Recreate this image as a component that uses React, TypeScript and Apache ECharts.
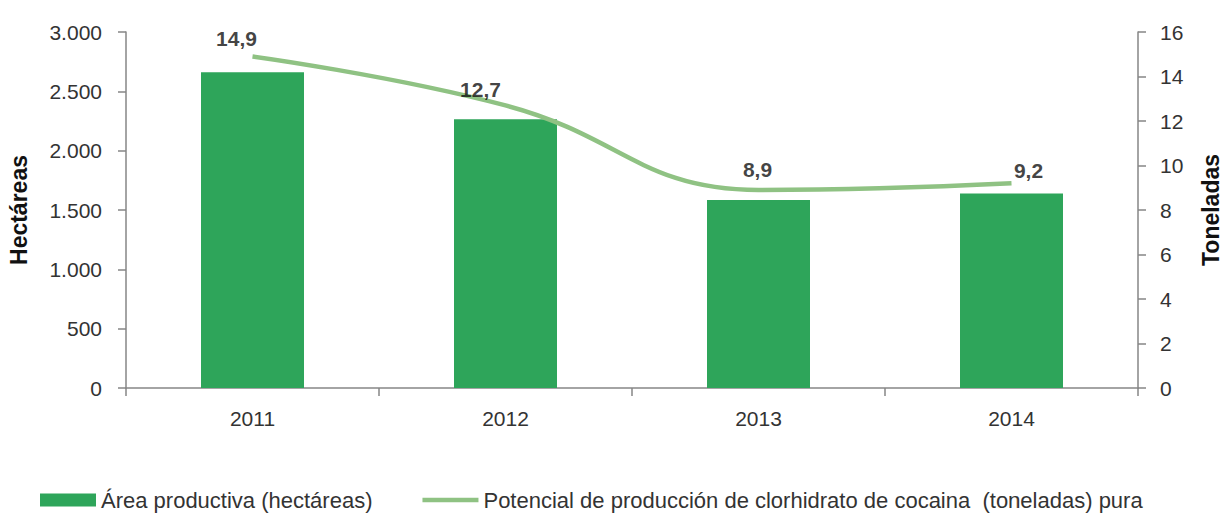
import React, { useEffect, useRef } from "react";
import * as echarts from "echarts";

const years = ["2011", "2012", "2013", "2014"];
const areaHa = [2660, 2265, 1585, 1640];
const toneladas = [14.9, 12.7, 8.9, 9.2];
const labelOffsets = [[-16, -5], [-25, -3], [-1, -8], [17, 0]];
const leftTicks = { min: 0, max: 3000, interval: 500 };
const rightTicks = { min: 0, max: 16, interval: 2 };
const barName = "Área productiva (hectáreas)";
const lineName = "Potencial de producción de clorhidrato de cocaina  (toneladas) pura";

const FONT = "'Liberation Sans', Arial, sans-serif";
const AXIS_COLOR = "#868686";
const TEXT_COLOR = "#333333";

export default function App() {
  const ref = useRef<HTMLDivElement>(null);
  useEffect(() => {
    if (!ref.current) return;
    const chart = echarts.init(ref.current, undefined, { renderer: "svg" });
    const fmt = (v: number) => String(v).replace(/\B(?=(\d{3})+(?!\d))/g, ".");
    chart.setOption({
      animation: false,
      textStyle: { fontFamily: FONT },
      grid: {
        left: 126,
        right: 85,
        top: 32,
        bottom: 126,
        containLabel: false,
        outerBoundsMode: "none",
      },
      legend: {
        left: 35,
        top: 484,
        itemWidth: 56,
        itemHeight: 13,
        itemGap: 50,
        textStyle: { fontSize: 22, color: TEXT_COLOR, fontFamily: FONT },
        data: [
          { name: barName, icon: "rect" },
          { name: lineName, icon: "path://M0,0H56V4.5H0Z" },
        ],
      },
      xAxis: {
        type: "category",
        data: years,
        boundaryGap: true,
        axisLine: { lineStyle: { color: AXIS_COLOR, width: 1.5 } },
        axisTick: { show: true, length: 8, lineStyle: { color: AXIS_COLOR, width: 1.5 } },
        axisLabel: { margin: 20, fontSize: 21, color: TEXT_COLOR },
      },
      yAxis: [
        {
          type: "value",
          position: "left",
          ...leftTicks,
          name: "Hectáreas",
          nameLocation: "middle",
          nameGap: 96,
          nameTextStyle: { fontSize: 23, fontWeight: "bold", color: "#111" },
          splitLine: { show: false },
          axisLine: { show: true, lineStyle: { color: AXIS_COLOR, width: 1.5 } },
          axisTick: { show: true, length: 8, lineStyle: { color: AXIS_COLOR, width: 1.5 } },
          axisLabel: { margin: 24, fontSize: 21, color: TEXT_COLOR, formatter: fmt },
        },
        {
          type: "value",
          position: "right",
          ...rightTicks,
          name: "Toneladas",
          nameLocation: "middle",
          nameGap: 61,
          nameRotate: 90,
          nameTextStyle: { fontSize: 23, fontWeight: "bold", color: "#111" },
          splitLine: { show: false },
          axisLine: { show: true, lineStyle: { color: AXIS_COLOR, width: 1.5 } },
          axisTick: { show: true, length: 8, lineStyle: { color: AXIS_COLOR, width: 1.5 } },
          axisLabel: { margin: 22, fontSize: 21, color: TEXT_COLOR },
        },
      ],
      series: [
        {
          name: barName,
          type: "bar",
          yAxisIndex: 0,
          data: areaHa,
          barWidth: 103,
          itemStyle: { color: "#2EA55A" },
        },
        {
          name: lineName,
          type: "line",
          yAxisIndex: 1,
          smooth: 0.45,
          symbol: "none",
          lineStyle: { color: "#8FC283", width: 4.5 },
          itemStyle: { color: "#8FC283" },
          data: toneladas,
        },
        {
          name: "labels",
          type: "scatter",
          yAxisIndex: 1,
          symbolSize: 0,
          silent: true,
          z: 5,
          data: toneladas.map((v, i) => ({
            value: v,
            label: {
              show: true,
              position: "top",
              distance: 2,
              offset: labelOffsets[i],
              formatter: (p: any) => String(p.value).replace(".", ","),
              fontSize: 21,
              fontWeight: "bold",
              color: "#111",
              fontFamily: FONT,
            },
          })),
        },
      ],
    });
    return () => chart.dispose();
  }, []);
  return (
    <div
      ref={ref}
      style={{ position: "absolute", left: 0, top: 0, width: 1223, height: 514, background: "#fff" }}
    />
  );
}
